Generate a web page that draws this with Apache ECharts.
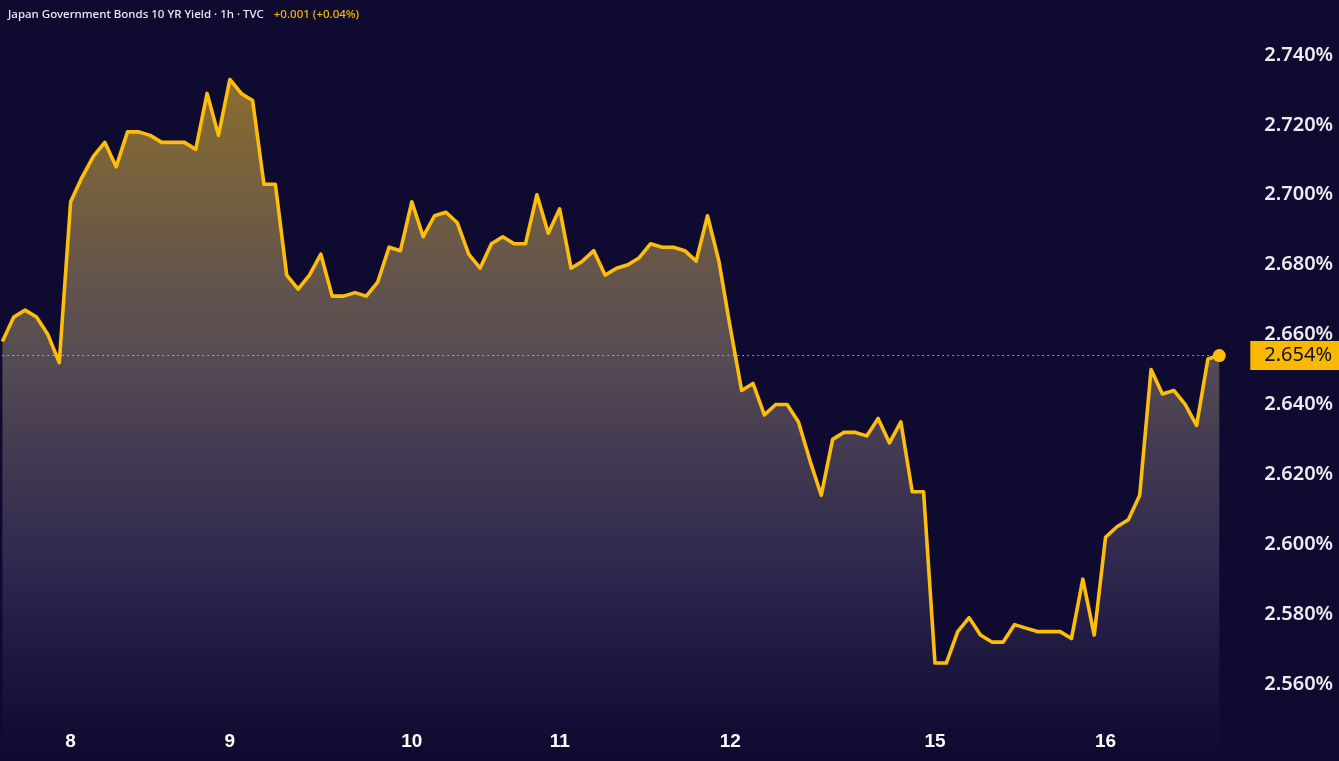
<!DOCTYPE html>
<html>
<head>
<meta charset="utf-8">
<script src="https://cdn.jsdelivr.net/npm/echarts@6/dist/echarts.min.js"></script>
<style>
html,body{margin:0;padding:0;background:#0e0a30;}
#chart{width:1339px;height:761px;}
</style>
</head>
<body>
<div id="chart"></div>
<script>
// Session days and number of hourly bars per day (first day is partial)
const sessionDays = ['7', '8', '9', '10', '11', '12', '15', '16'];
const barsPerDay = [6, 14, 16, 13, 15, 18, 15, 11];

// Hourly yield closes (%)
const yields = [
  2.658, 2.665, 2.667, 2.665, 2.660, 2.652,
  2.698, 2.705, 2.711, 2.715, 2.708, 2.718, 2.718, 2.717, 2.715, 2.715, 2.715, 2.713, 2.729, 2.717,
  2.733, 2.729, 2.727, 2.703, 2.703, 2.677, 2.673, 2.677, 2.683, 2.671, 2.671, 2.672, 2.671, 2.675, 2.685, 2.684,
  2.698, 2.688, 2.694, 2.695, 2.692, 2.683, 2.679, 2.686, 2.688, 2.686, 2.686, 2.700, 2.689,
  2.696, 2.679, 2.681, 2.684, 2.677, 2.679, 2.680, 2.682, 2.686, 2.685, 2.685, 2.684, 2.681, 2.694, 2.681,
  2.662, 2.644, 2.646, 2.637, 2.640, 2.640, 2.635, 2.624, 2.614, 2.630, 2.632, 2.632, 2.631, 2.636, 2.629, 2.635, 2.615, 2.615,
  2.566, 2.566, 2.575, 2.579, 2.574, 2.572, 2.572, 2.577, 2.576, 2.575, 2.575, 2.575, 2.573, 2.590, 2.574,
  2.602, 2.605, 2.607, 2.614, 2.650, 2.643, 2.644, 2.640, 2.634, 2.653, 2.654
];

// Y axis ticks
const yTickMin = 2.54;
const yTickStep = 0.02;
const yTop = 2.75574;

const titleMain = 'Japan Government Bonds 10 YR Yield · 1h · TVC';
const titleChange = '+0.001 (+0.04%)';

// build hourly categories
const categories = [];
const dayStart = {};
sessionDays.forEach((d, di) => {
  for (let h = 0; h < barsPerDay[di]; h++) {
    if (h === 0 && di > 0) dayStart[categories.length] = d;
    categories.push(d + '#' + h);
  }
});
const lastVal = yields[yields.length - 1];

const chart = echarts.init(document.getElementById('chart'));
chart.setOption({
  animation: false,
  backgroundColor: '#0e0a30',
  title: {
    left: 3, top: 1,
    text: '{a|' + titleMain + '}  {b|' + titleChange + '}',
    textStyle: {
      rich: {
        a: { color: '#ececf2', fontSize: 11.5, fontFamily: 'Noto Sans', fontWeight: 500 },
        b: { color: '#f5b800', fontSize: 11.5, fontFamily: 'Noto Sans', fontWeight: 500 }
      }
    }
  },
  grid: { left: 2.4, right: 119.7, top: 0, bottom: 7.1 },
  xAxis: {
    type: 'category',
    data: categories,
    boundaryGap: false,
    axisLine: { show: false },
    axisTick: { show: false },
    splitLine: { show: false },
    axisLabel: {
      inside: true,
      margin: 3,
      interval: (idx) => dayStart[idx] !== undefined,
      formatter: (v, idx) => dayStart[idx] || '',
      color: '#ffffff',
      fontSize: 19,
      fontWeight: 'bold',
      fontFamily: 'Liberation Sans'
    }
  },
  yAxis: {
    type: 'value',
    position: 'right',
    min: yTickMin,
    max: yTop,
    interval: yTickStep,
    splitLine: { show: false },
    axisLine: { show: false },
    axisTick: { show: false },
    axisLabel: {
      showMinLabel: false,
      showMaxLabel: false,
      margin: 45,
      color: '#ececf2',
      fontSize: 20,
      fontWeight: 600,
      fontFamily: 'Noto Sans',
      formatter: (v) => v.toFixed(3) + '%'
    }
  },
  series: [{
    type: 'line',
    data: yields,
    showSymbol: false,
    lineStyle: { color: '#fcbd0c', width: 3.6, join: 'round' },
    itemStyle: { color: '#fcbd0c' },
    areaStyle: {
      opacity: 1,
      color: new echarts.graphic.LinearGradient(0, 0, 0, 1, [
        { offset: 0, color: 'rgba(255,200,45,0.52)' },
        { offset: 0.42, color: 'rgba(200,180,140,0.38)' },
        { offset: 0.7, color: 'rgba(160,140,170,0.25)' },
        { offset: 1, color: 'rgba(140,120,170,0.0)' }
      ])
    },
    markLine: {
      silent: true,
      precision: 3,
      symbol: ['none', 'none'],
      lineStyle: { color: 'rgba(245,200,70,0.95)', type: [1.5, 3.5], width: 1, opacity: 1 },
      label: {
        position: 'end',
        distance: 31,
        formatter: () => lastVal.toFixed(3) + '%',
        backgroundColor: '#f9b900',
        color: '#14102a',
        fontSize: 20,
        fontFamily: 'Noto Sans',
        padding: [5, 8, 4, 14]
      },
      data: [{ yAxis: lastVal }]
    },
    markPoint: {
      silent: true,
      symbol: 'circle',
      symbolSize: 13,
      itemStyle: { color: '#fcbd0c' },
      label: { show: false },
      data: [{ coord: [categories[categories.length - 1], lastVal] }]
    }
  }]
});
</script>
</body>
</html>
